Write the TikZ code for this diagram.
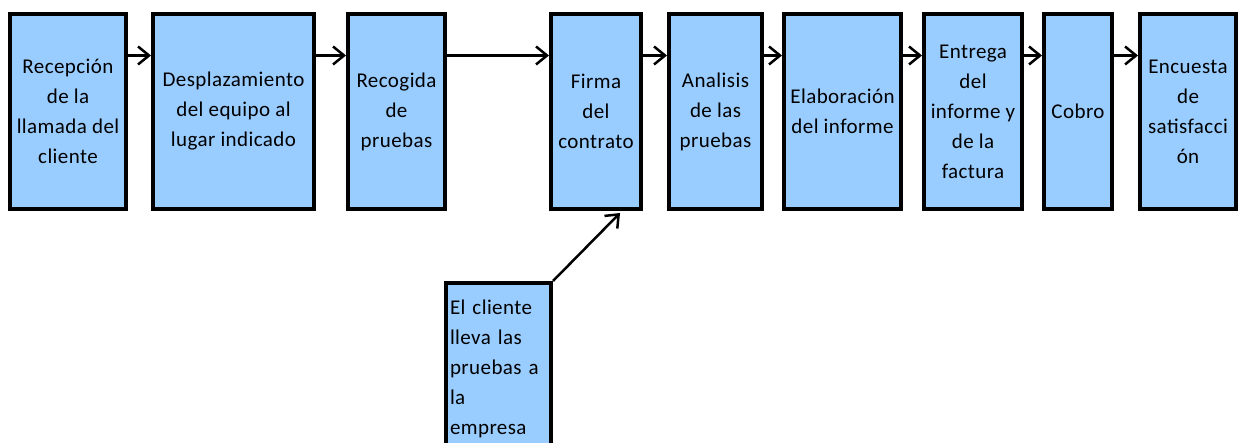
\documentclass[tikz,border=0pt]{standalone}
\usepackage{fontspec}
\setmainfont[LetterSpace=2]{Carlito}
\usetikzlibrary{arrows.meta, positioning}
\definecolor{cBox}{RGB}{153,204,255}
\tikzset{
	paso/.style  ={rectangle, draw=black, line width=4pt, fill=cBox, minimum height=195pt, align=center, inner sep=2pt, font=\fontsize{21}{30}\selectfont},
	nota/.style  ={rectangle, draw=black, line width=4pt, fill=cBox, align=left, text width=97pt, inner xsep=4pt, inner ysep=17pt, anchor=north, font=\fontsize{21}{30}\selectfont},
	flecha/.style={-{Straight Barb[length=11pt,width=18pt]}, line width=2.5pt},
}
\begin{document}
\begin{tikzpicture}[x=1pt, y=1pt]
	\useasboundingbox (0,0) rectangle (1239,443);
	\clip (0,0) rectangle (1239,443);
	% process steps
	\node[paso, minimum width=116pt] (recepcion) at (68,331.5) {Recepción\\de la\\llamada del\\cliente};
	\node[paso, minimum width=161pt] (desplaz) at (233.5,331.5) {Desplazamiento\\del equipo al\\lugar indicado};
	\node[paso, minimum width=97pt] (recogida) at (396.5,331.5) {Recogida\\de\\pruebas};
	\node[paso, minimum width=90pt] (firma) at (596,331.5) {Firma\\del\\contrato};
	\node[paso, minimum width=93pt] (analisis) at (715.5,331.5) {Analisis\\de las\\pruebas};
	\node[paso, minimum width=117pt] (informe) at (842.5,331.5) {Elaboración\\del informe};
	\node[paso, minimum width=98pt] (entrega) at (973,331.5) {Entrega\\del\\informe y\\de la\\factura};
	\node[paso, minimum width=68pt] (cobro) at (1078,331.5) {Cobro};
	\node[paso, minimum width=96pt] (encuesta) at (1188,331.5) {Encuesta\\de\\satisfacci\\ón};
	% alternative entry
	\node[nota] (lleva) at (498.5,162) {El cliente\\lleva las\\pruebas a\\la\\empresa};
	\foreach \a/\b in {recepcion/desplaz, desplaz/recogida, recogida/firma, firma/analisis, analisis/informe, informe/entrega, entrega/cobro, cobro/encuesta} {
		\draw[flecha] ([yshift=56pt]\a.east) -- ([yshift=56pt]\b.west);
	}
	\draw[flecha] (lleva.north east) -- ([xshift=24pt, yshift=-2pt]firma.south);
\end{tikzpicture}
\end{document}
